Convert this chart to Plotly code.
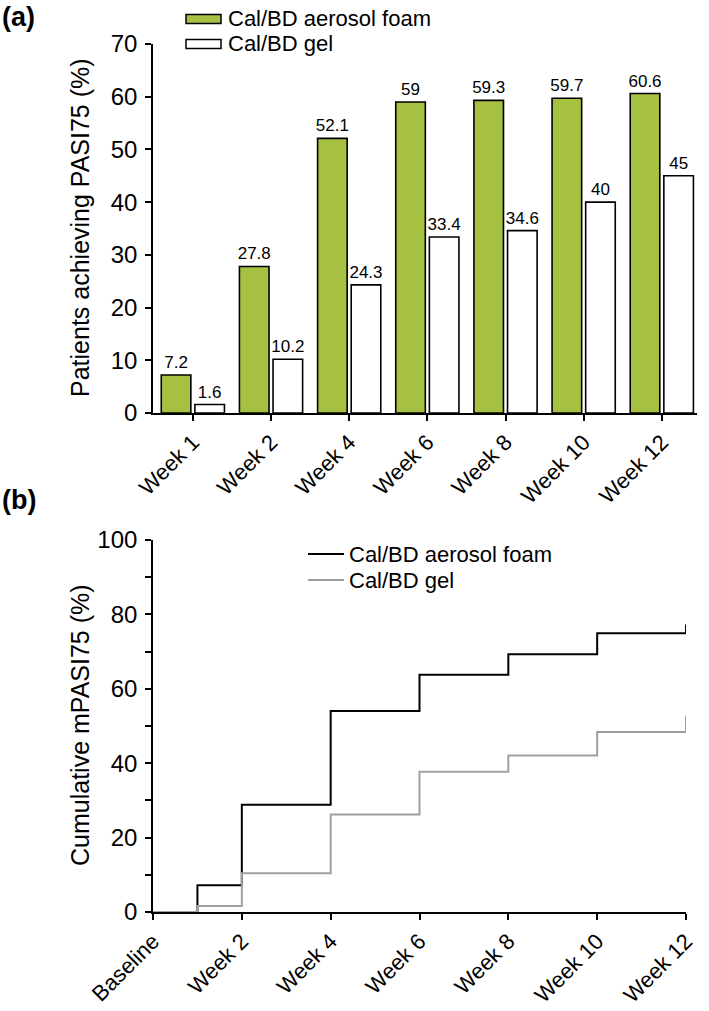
import plotly.graph_objects as go

# ---- data ----
weeks_a = ["Week 1", "Week 2", "Week 4", "Week 6", "Week 8", "Week 10", "Week 12"]
foam_a = [7.2, 27.8, 52.1, 59.0, 59.3, 59.7, 60.6]
gel_a = [1.6, 10.2, 24.3, 33.4, 34.6, 40.0, 45.0]

weeks_b = [0, 1, 2, 4, 6, 8, 10, 12]
foam_b = [0, 7.2, 28.8, 54.0, 63.8, 69.3, 74.9, 77.3]
gel_b = [0, 1.6, 10.4, 26.2, 37.7, 42.1, 48.4, 52.8]
ticks_b = [0, 2, 4, 6, 8, 10, 12]
ticklabels_b = ["Baseline", "Week 2", "Week 4", "Week 6", "Week 8", "Week 10", "Week 12"]

GREEN = "#a6c142"
W, H = 709, 1011
FONT = "Liberation Sans, Arial, sans-serif"
YTICK = 24
XTICK = 22


def px(x):
    return x / W


def py(y):
    return 1 - y / H


fig = go.Figure()

fig.add_trace(go.Bar(x=weeks_a, y=foam_a, name="Cal/BD aerosol foam",
                     marker=dict(color=GREEN, line=dict(color="black", width=1.6)),
                     text=[f"{v:g}" for v in foam_a], textposition="outside",
                     constraintext="none",
                     textfont=dict(size=17, color="black", family=FONT), cliponaxis=False,
                     xaxis="x", yaxis="y", showlegend=False))
fig.add_trace(go.Bar(x=weeks_a, y=gel_a, name="Cal/BD gel",
                     marker=dict(color="white", line=dict(color="black", width=1.6)),
                     text=[f"{v:g}" for v in gel_a], textposition="outside",
                     constraintext="none",
                     textfont=dict(size=17, color="black", family=FONT), cliponaxis=False,
                     xaxis="x", yaxis="y", showlegend=False))

fig.add_trace(go.Scatter(x=weeks_b, y=foam_b, mode="lines", line_shape="hv",
                         line=dict(color="black", width=2), name="Cal/BD aerosol foam",
                         xaxis="x2", yaxis="y2", showlegend=False, cliponaxis=False))
fig.add_trace(go.Scatter(x=weeks_b, y=gel_b, mode="lines", line_shape="hv",
                         line=dict(color="#a0a0a0", width=2), name="Cal/BD gel",
                         xaxis="x2", yaxis="y2", showlegend=False, cliponaxis=False))

axis_common = dict(showline=True, linecolor="black", linewidth=1.6, ticks="outside",
                   ticklen=6, tickwidth=1.6, tickcolor="black", showgrid=False,
                   zeroline=False)
xfont = dict(size=XTICK, color="black", family=FONT)
yfont = dict(size=YTICK, color="black", family=FONT)

fig.update_layout(
    width=W, height=H, margin=dict(l=0, r=0, t=0, b=0),
    paper_bgcolor="white", plot_bgcolor="white",
    font=dict(family=FONT, color="black"),
    barmode="group", bargap=0.14, bargroupgap=0.12,
    xaxis=dict(domain=[px(153), px(697)], range=[-0.51, 6.45], anchor="y",
               tickangle=-45, automargin=False, tickfont=xfont, **axis_common),
    yaxis=dict(domain=[py(413), py(44)], range=[0, 70], anchor="x", dtick=10,
               automargin=False, ticklabelstandoff=3, tickfont=yfont, **axis_common),
    xaxis2=dict(domain=[px(153), px(686)], range=[0, 12], anchor="y2",
                tickvals=ticks_b, ticktext=ticklabels_b, tickangle=-45,
                automargin=False, tickfont=xfont, **axis_common),
    yaxis2=dict(domain=[py(912), py(540)], range=[0, 100], anchor="x2", dtick=20,
                minor=dict(dtick=10, ticks="outside", ticklen=6, tickwidth=1.6,
                           tickcolor="black", showgrid=False),
                automargin=False, ticklabelstandoff=3, tickfont=yfont, **axis_common),
)

shapes = []
annotations = []

# legend (a)
for i, (fill, label) in enumerate([(GREEN, "Cal/BD aerosol foam"), ("white", "Cal/BD gel")]):
    yc = 19 + i * 25
    shapes.append(dict(type="rect", xref="paper", yref="paper",
                       x0=px(186), x1=px(221), y0=py(yc + 4.5), y1=py(yc - 4.5),
                       fillcolor=fill, line=dict(color="black", width=1.5)))
    annotations.append(dict(xref="paper", yref="paper", x=px(226), y=py(yc),
                            text=label, showarrow=False, xanchor="left", yanchor="middle",
                            font=dict(size=22, family=FONT, color="black")))

# legend (b)
for i, (col, label) in enumerate([("black", "Cal/BD aerosol foam"), ("#a0a0a0", "Cal/BD gel")]):
    yc = 554 + i * 26
    shapes.append(dict(type="line", xref="paper", yref="paper",
                       x0=px(308), x1=px(344), y0=py(yc), y1=py(yc),
                       line=dict(color=col, width=2)))
    annotations.append(dict(xref="paper", yref="paper", x=px(347), y=py(yc),
                            text=label, showarrow=False, xanchor="left", yanchor="middle",
                            font=dict(size=22, family=FONT, color="black")))

# axis titles
annotations.append(dict(xref="paper", yref="paper", x=px(80), y=py(228),
                        text="Patients achieving PASI75 (%)", textangle=-90,
                        showarrow=False, xanchor="center", yanchor="middle",
                        font=dict(size=25, family=FONT, color="black")))
annotations.append(dict(xref="paper", yref="paper", x=px(80), y=py(725),
                        text="Cumulative mPASI75 (%)", textangle=-90,
                        showarrow=False, xanchor="center", yanchor="middle",
                        font=dict(size=25, family=FONT, color="black")))

# panel labels
annotations.append(dict(xref="paper", yref="paper", x=0, y=py(17), text="<b>(a)</b>",
                        showarrow=False, xanchor="left", yanchor="middle",
                        font=dict(size=27, family=FONT, color="black")))
annotations.append(dict(xref="paper", yref="paper", x=0, y=py(500), text="<b>(b)</b>",
                        showarrow=False, xanchor="left", yanchor="middle",
                        font=dict(size=27, family=FONT, color="black")))

fig.update_layout(shapes=shapes, annotations=annotations)

fig.write_html("out.html", config={"displayModeBar": False},
               post_script="document.body.style.margin='0px';document.body.style.overflow='hidden';")
